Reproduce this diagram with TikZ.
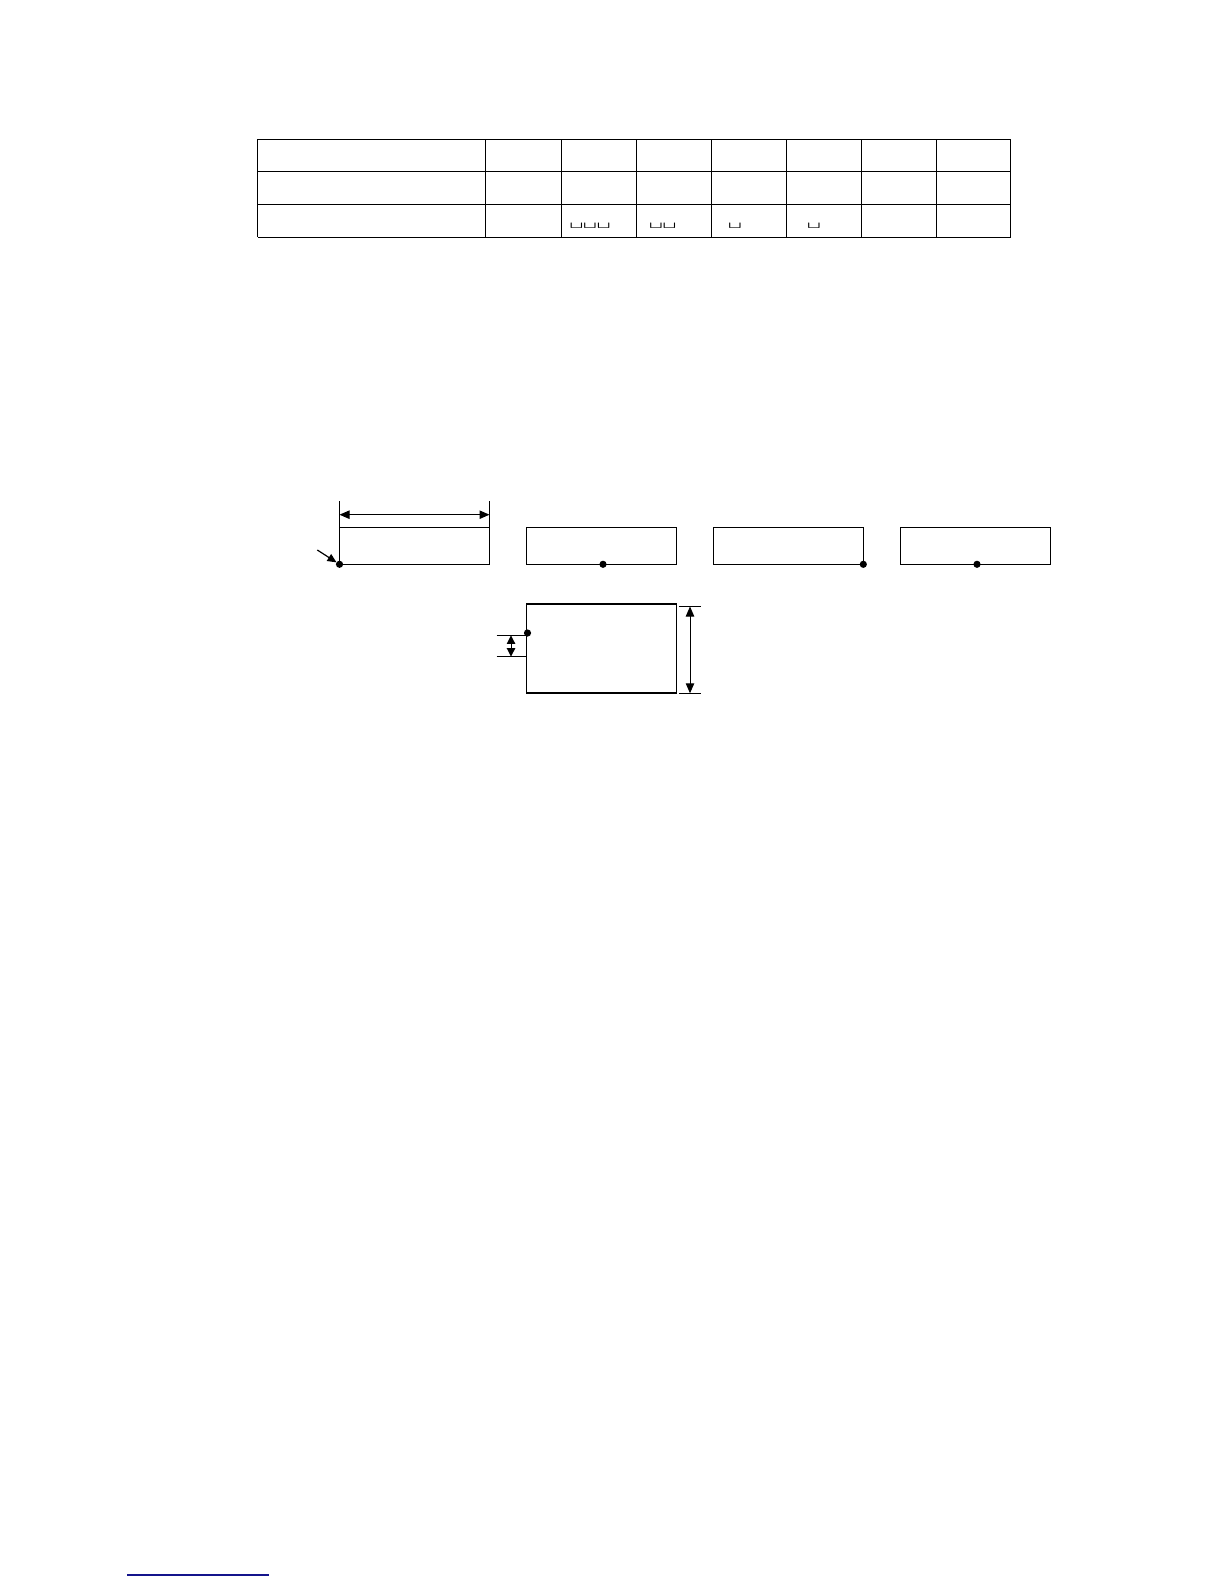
\documentclass[tikz,border=0pt]{standalone}
\usepackage{fontspec}
\usepackage{graphicx}
\usetikzlibrary{arrows.meta}
\definecolor{linkblue}{RGB}{20,20,140}
\newcommand{\flatvs}[1]{\scalebox{1}[0.55]{#1}}
\begin{document}
\begin{tikzpicture}[x=0.5pt,y=-0.5pt,
  tab/.style={line width=0.6pt},
  box/.style={draw, line width=0.6pt, rectangle, inner sep=0pt, outer sep=0pt,
              minimum width=75pt, minimum height=18.5pt, anchor=north west},
  dotn/.style={circle, fill, inner sep=0pt, outer sep=0pt, minimum size=3.6pt},
  ext/.style={line width=0.5pt},
  dimarr/.style={line width=0.5pt, {Triangle[length=5pt,width=4.2pt]}-{Triangle[length=5pt,width=4.2pt]}},
  smalldim/.style={line width=0.5pt, {Triangle[length=4.3pt,width=4.2pt]}-{Triangle[length=4.3pt,width=4.2pt]}},
  pointer/.style={line width=0.6pt, -{Triangle[length=4.5pt,width=4pt]}},
  vs/.style={inner sep=0pt, outer sep=0pt, anchor=base west, font=\ttfamily\fontsize{13.3}{14}\selectfont}
]
\useasboundingbox (0,0) rectangle (1224,1584);

% ---------- table ----------
\foreach \y in {139.4,171.7,204.2,237.3}
  \draw[tab] (257.5,\y) -- (1010.8,\y);
\foreach \x in {257.5,485.8,561.5,636.3,711.2,786.2,861.6,936.4,1010.8}
  \draw[tab] (\x,139.4) -- (\x,237.3);

\node[vs] (vs3) at (569.5,226) {\flatvs{␣␣␣}};
\node[vs] (vs4) at (649,226) {\flatvs{␣␣}};
\node[vs] (vs5) at (728,226) {\flatvs{␣}};
\node[vs] (vs6) at (807,226) {\flatvs{␣}};

% ---------- boxes ----------
\node[box] (b1) at (339.5,527.3) {};
\node[box] (b2) at (526.3,527.3) {};
\node[box] (b3) at (713.3,527.3) {};
\node[box] (b4) at (900.3,527.3) {};
\node[box, minimum height=44.5pt] (b5) at (526.3,604) {};
\draw[line width=1.2pt] (b5.south west) -- (b5.south east);

% dots
\node[dotn] (d1) at (b1.south west) {};
\node[dotn] (d2) at (603,564.3) {};
\node[dotn] (d3) at (b3.south east) {};
\node[dotn] (d4) at (977,564.3) {};
\node[dotn] (d5) at (527.5,633) {};

% pointer arrow to first dot
\coordinate (p0) at (317.3,550);
\draw[pointer] (p0) -- (d1);

% width dimension of box 1
\coordinate (e1) at (339.5,500.5);
\coordinate (e2) at (489.5,500.5);
\draw[ext] (b1.north west) -- (e1);
\draw[ext] (b1.north east) -- (e2);
\coordinate (w1) at (339.5,514.7);
\coordinate (w2) at (489.5,514.7);
\draw[dimarr] (w1) -- (w2);

% height dimension of box 5 (right)
\coordinate (r1a) at (679.3,606.5);
\coordinate (r1b) at (700.7,606.5);
\coordinate (r2a) at (679.3,693.3);
\coordinate (r2b) at (700.7,693.3);
\draw[ext] (r1a) -- (r1b);
\draw[ext] (r2a) -- (r2b);
\coordinate (h1) at (690,606.5);
\coordinate (h2) at (690,693.3);
\draw[dimarr] (h1) -- (h2);

% small offset dimension (left)
\coordinate (l1a) at (496.7,635.3);
\coordinate (l1b) at (526.3,635.3);
\coordinate (l2a) at (496.7,656.7);
\coordinate (l2b) at (526.3,656.7);
\draw[ext] (l1a) -- (l1b);
\draw[ext] (l2a) -- (l2b);
\coordinate (s1) at (511,635.3);
\coordinate (s2) at (511,656.7);
\draw[smalldim] (s1) -- (s2);

% blue underline at the bottom
\coordinate (u1) at (127.3,1575);
\coordinate (u2) at (269,1575);
\draw[linkblue, line width=0.7pt] (u1) -- (u2);
\end{tikzpicture}
\end{document}
